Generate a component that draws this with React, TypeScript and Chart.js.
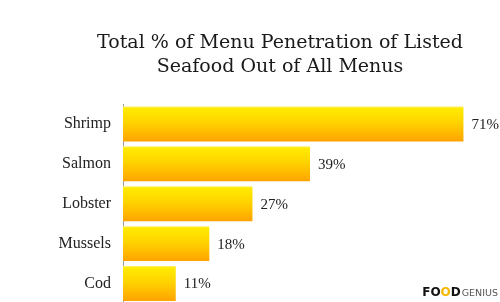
import React, { useEffect, useRef } from "react";
import { Chart, registerables } from "chart.js";

Chart.register(...registerables);

const titleLines = ["Total % of Menu Penetration of Listed", "Seafood Out of All Menus"];
const categories = ["Shrimp", "Salmon", "Lobster", "Mussels", "Cod"];
const values = [71, 39, 27, 18, 11];

const BAR_H = 35;

const overlayPlugin = {
  id: "overlay",
  afterDatasetsDraw(chart: any) {
    const ctx = chart.ctx;
    const meta = chart.getDatasetMeta(0);
    ctx.save();
    ctx.fillStyle = "#222";
    ctx.font = "15px 'Liberation Serif', serif";
    ctx.textAlign = "left";
    ctx.textBaseline = "middle";
    meta.data.forEach((el: any, i: number) => {
      ctx.fillText(values[i] + "%", el.x + 8, el.y + 1);
    });
    ctx.restore();
  },
  afterDraw(chart: any) {
    const ctx = chart.ctx;
    ctx.save();
    ctx.fillStyle = "#1a1a1a";
    ctx.textAlign = "center";
    ctx.textBaseline = "alphabetic";
    ctx.font = "21px 'DejaVu Serif', serif";
    const w0 = ctx.measureText(titleLines[0]).width;
    const scale = 366 / w0;
    ctx.font = (21 * scale).toFixed(2) + "px 'DejaVu Serif', serif";
    ctx.fillText(titleLines[0], 280, 48);
    ctx.fillText(titleLines[1], 280, 72);
    // logo
    ctx.textAlign = "left";
    ctx.textBaseline = "middle";
    const y = 293;
    const boldF = "bold 12px 'DejaVu Sans', sans-serif";
    const lightF = "9.5px 'DejaVu Sans', sans-serif";
    ctx.font = boldF;
    const wB = ctx.measureText("FOOD").width;
    ctx.font = lightF;
    const wL = ctx.measureText("GENIUS").width;
    let x = 498 - (wB + wL + 1);
    ctx.font = boldF;
    ctx.fillStyle = "#111";
    ctx.fillText("FO", x, y);
    x += ctx.measureText("FO").width;
    ctx.fillStyle = "#F5B800";
    ctx.fillText("O", x, y);
    x += ctx.measureText("O").width;
    ctx.fillStyle = "#111";
    ctx.fillText("D", x, y);
    x += ctx.measureText("D").width + 1;
    ctx.font = lightF;
    ctx.fillStyle = "#555";
    ctx.fillText("GENIUS", x, y + 1);
    ctx.restore();
  },
};

export default function App() {
  const ref = useRef<HTMLCanvasElement>(null);
  useEffect(() => {
    if (!ref.current) return;
    const chart = new Chart(ref.current, {
      type: "bar",
      data: {
        labels: categories,
        datasets: [
          {
            data: values,
            backgroundColor: (c: any) => {
              const ch = c.chart;
              const ys = ch.scales && ch.scales.y;
              if (!ch.chartArea || !ys || c.dataIndex === undefined) return "#FFC800";
              const yc = ys.getPixelForValue(c.dataIndex);
              const g = ch.ctx.createLinearGradient(0, yc - BAR_H / 2, 0, yc + BAR_H / 2);
              g.addColorStop(0, "#FFF06A");
              g.addColorStop(0.06, "#FFEA00");
              g.addColorStop(0.45, "#FFD400");
              g.addColorStop(1, "#FFA300");
              return g;
            },
            borderWidth: 0,
            barPercentage: 0.875,
            categoryPercentage: 1,
          },
        ],
      },
      options: {
        indexAxis: "y",
        animation: false,
        responsive: false,
        maintainAspectRatio: false,
        layout: { padding: { top: 104, bottom: 6, right: 3, left: 0 } },
        plugins: { legend: { display: false }, tooltip: { enabled: false }, title: { display: false } },
        scales: {
          x: { display: false, min: 0, max: 78 },
          y: {
            grid: { display: false, drawTicks: false },
            border: { display: true, color: "#9a9a9a", width: 1 },
            ticks: {
              padding: 12,
              color: "#222",
              font: { family: "'Liberation Serif', serif", size: 16 },
            },
            afterFit: (s: any) => {
              s.width = 123;
            },
          },
        },
      },
      plugins: [overlayPlugin],
    } as any);
    return () => chart.destroy();
  }, []);
  return (
    <div style={{ position: "fixed", left: 0, top: 0, width: 500, height: 302, overflow: "hidden", background: "#fff" }}>
      <canvas ref={ref} width={500} height={325} style={{ display: "block", width: 500, height: 325 }} />
    </div>
  );
}
